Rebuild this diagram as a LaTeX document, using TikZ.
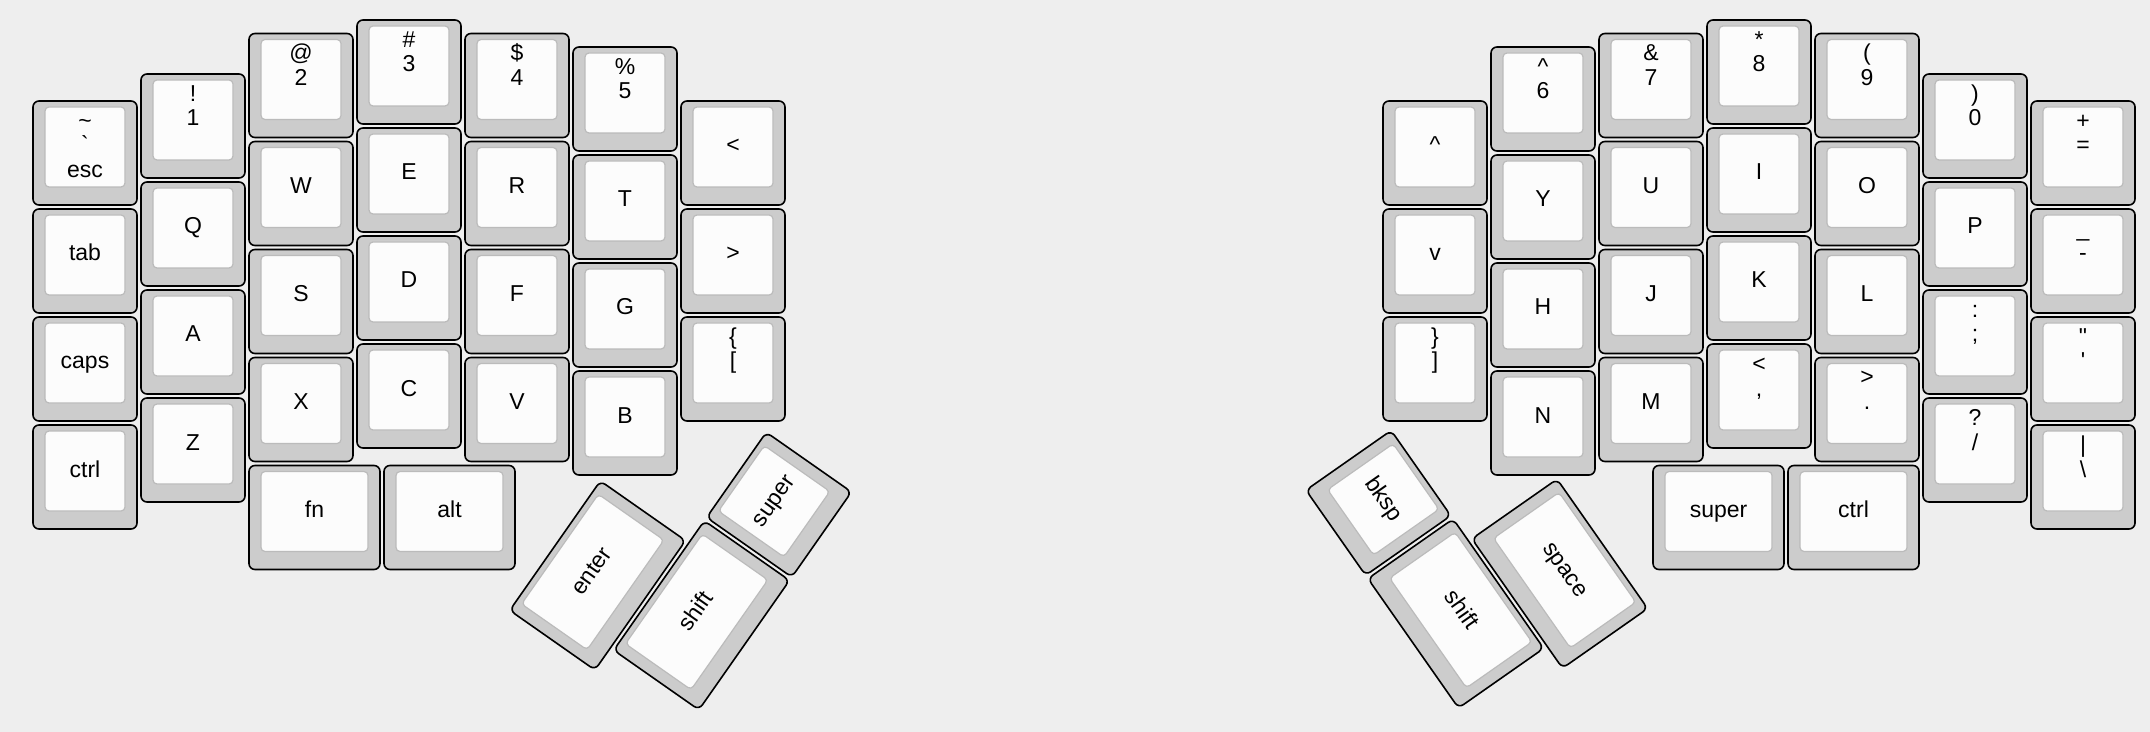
\documentclass[tikz,border=0pt]{standalone}
\usepackage{fontspec}
\setmainfont{Liberation Sans}
\definecolor{kbPaper}{HTML}{EEEEEE}
\definecolor{kbCap}{HTML}{CCCCCC}
\definecolor{kbFace}{HTML}{FCFCFC}
\definecolor{kbRim}{HTML}{BBBBBB}
\tikzset{
  keybody/.style={
    draw=black, line width=0.8pt, rounded corners=3pt,
    fill=kbCap, inner sep=0pt, minimum height=52pt
  },
  keyface/.style={
    draw=kbRim, line width=0.6pt, rounded corners=2pt,
    fill=kbFace, inner sep=0pt, minimum height=40pt
  },
  legend/.style={anchor=base, inner sep=0pt, text=black,
    font=\fontsize{11.5pt}{13pt}\selectfont},
}
% cap and face: name, centre x, centre y (px), width (u)
\newcommand{\keyshape}[4]{%
  \node[keybody, minimum width={(108*#4-4)*0.5pt}] (#1) at (#2,#3) {};
  \node[keyface, minimum width={(108*#4-28)*0.5pt}] (#1f) at (#2,#3-6) {};
}
% grid key, one legend: [width] name, col, row, legend
\newcommand{\kone}[5][1]{%
  \keyshape{#2}{31+108*#3+54*#1}{72+108*#4}{#1}
  \node[legend] (#2l) at (31+108*#3+54*#1,72+108*#4) {#5};
}
% grid key, two legends: name, col, row, upper, lower
\newcommand{\ktwo}[5]{%
  \keyshape{#1}{85+108*#2}{72+108*#3}{1}
  \node[legend] (#1u) at (85+108*#2,72+108*#3-24.5) {#4};
  \node[legend] (#1l) at (85+108*#2,72+108*#3) {#5};
}

\begin{document}
\begin{tikzpicture}[x=0.5pt, y=-0.5pt]
  \fill[kbPaper] (0,0) rectangle (2150,732);

  % left half
  \keyshape{kesc}{85}{153}{1}
  \node[legend] (kescu) at (85,128.5) {\textasciitilde};
  \node[legend] (kescm) at (85,153) {\textasciigrave};
  \node[legend] (kescl) at (85,177.5) {esc};
  \kone{ktab}{0}{1.75}{tab}
  \kone{kcaps}{0}{2.75}{caps}
  \kone{kctl}{0}{3.75}{ctrl}

  \ktwo{k1}{1}{0.5}{!}{1}
  \kone{kq}{1}{1.5}{Q}
  \kone{ka}{1}{2.5}{A}
  \kone{kz}{1}{3.5}{Z}

  \ktwo{k2}{2}{0.125}{@}{2}
  \kone{kw}{2}{1.125}{W}
  \kone{ks}{2}{2.125}{S}
  \kone{kx}{2}{3.125}{X}

  \ktwo{k3}{3}{0}{\#}{3}
  \kone{ke}{3}{1}{E}
  \kone{kd}{3}{2}{D}
  \kone{kc}{3}{3}{C}

  \ktwo{k4}{4}{0.125}{\$}{4}
  \kone{kr}{4}{1.125}{R}
  \kone{kf}{4}{2.125}{F}
  \kone{kv}{4}{3.125}{V}

  \ktwo{k5}{5}{0.25}{\%}{5}
  \kone{kt}{5}{1.25}{T}
  \kone{kg}{5}{2.25}{G}
  \kone{kb}{5}{3.25}{B}

  \kone{klt}{6}{0.75}{<}
  \kone{kgt}{6}{1.75}{>}
  \ktwo{kbrl}{6}{2.75}{\{}{[}

  \kone[1.25]{kfn}{2}{4.125}{fn}
  \kone[1.25]{kalt}{3.25}{4.125}{alt}

  % left thumb
  \begin{scope}[shift={(701.6,615.3)}, rotate=55, transform shape]
    \keyshape{kent}{-27}{-108}{1.5}
    \node[legend] (kentl) at (-27,-108) {enter};
    \keyshape{kshl}{0}{0}{1.5}
    \node[legend] (kshll) at (0,0) {shift};
    \keyshape{ksul}{135}{0}{1}
    \node[legend] (ksull) at (135,0) {super};
  \end{scope}

  % right half
  \kone{kup}{12.5}{0.75}{\textasciicircum}
  \kone{kdn}{12.5}{1.75}{v}
  \ktwo{kbrr}{12.5}{2.75}{\}}{]}

  \ktwo{k6}{13.5}{0.25}{\textasciicircum}{6}
  \kone{ky}{13.5}{1.25}{Y}
  \kone{kh}{13.5}{2.25}{H}
  \kone{kn}{13.5}{3.25}{N}

  \ktwo{k7}{14.5}{0.125}{\&}{7}
  \kone{ku}{14.5}{1.125}{U}
  \kone{kj}{14.5}{2.125}{J}
  \kone{km}{14.5}{3.125}{M}

  \ktwo{k8}{15.5}{0}{*}{8}
  \kone{ki}{15.5}{1}{I}
  \kone{kk}{15.5}{2}{K}
  \ktwo{kcom}{15.5}{3}{<}{,}

  \ktwo{k9}{16.5}{0.125}{(}{9}
  \kone{ko}{16.5}{1.125}{O}
  \kone{kl}{16.5}{2.125}{L}
  \ktwo{kdot}{16.5}{3.125}{>}{.}

  \ktwo{k0}{17.5}{0.5}{)}{0}
  \kone{kp}{17.5}{1.5}{P}
  \ktwo{ksem}{17.5}{2.5}{:}{;}
  \ktwo{ksl}{17.5}{3.5}{?}{/}

  \ktwo{keq}{18.5}{0.75}{+}{=}
  \ktwo{kmin}{18.5}{1.75}{\_}{-}
  \ktwo{kqt}{18.5}{2.75}{\textquotedbl}{\textquotesingle}
  \ktwo{kbs}{18.5}{3.75}{\textbar}{\textbackslash}

  \kone[1.25]{ksur}{15}{4.125}{super}
  \kone[1.25]{kctr}{16.25}{4.125}{ctrl}

  % right thumb
  \begin{scope}[shift={(1455.8,613.5)}, rotate=-55, transform shape]
    \keyshape{kbk}{-135}{0}{1}
    \node[legend] (kbkl) at (-135,0) {bksp};
    \keyshape{kshr}{0}{0}{1.5}
    \node[legend] (kshrl) at (0,0) {shift};
    \keyshape{kspc}{27}{-108}{1.5}
    \node[legend] (kspcl) at (27,-108) {space};
  \end{scope}
\end{tikzpicture}
\end{document}
